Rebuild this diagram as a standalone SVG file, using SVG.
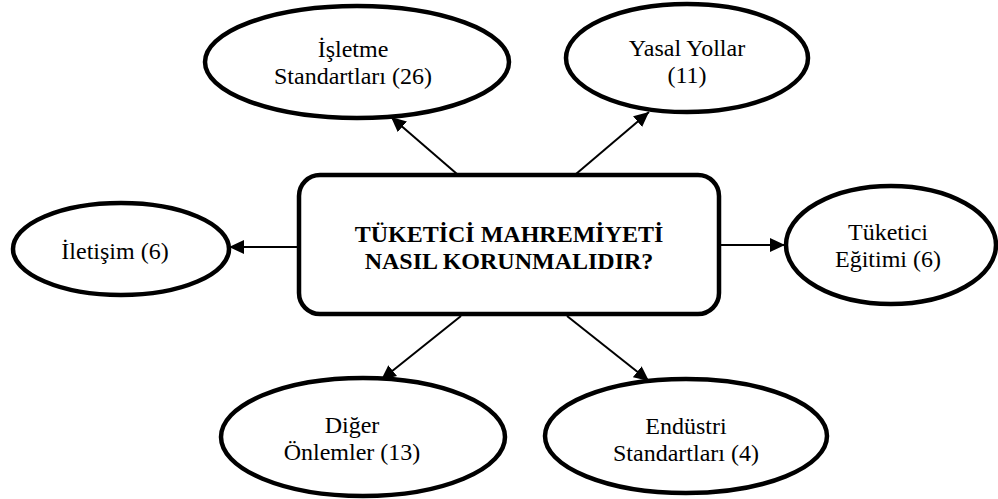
<svg xmlns="http://www.w3.org/2000/svg" width="998" height="499" viewBox="0 0 998 499">
<style>
.node{fill:#fff;stroke:#000;stroke-width:4.5}
text{font-family:'Liberation Serif','DejaVu Serif','Times New Roman',serif;fill:#000;text-anchor:middle}
.lbl{font-size:24px}
.title{font-size:24px;font-weight:bold}
.conn{stroke:#000;stroke-width:2;fill:none;marker-end:url(#ah)}
</style>
<defs>
<marker id="ah" markerUnits="userSpaceOnUse" markerWidth="16" markerHeight="14" refX="15" refY="7" orient="auto">
<path d="M0,0 L15,7 L0,14 Z" fill="#000"/>
</marker>
</defs>
<rect width="998" height="499" fill="#fff"/>
<g id="connectors">
<line class="conn" x1="457" y1="174" x2="391" y2="117"/>
<line class="conn" x1="576" y1="174" x2="649" y2="112"/>
<line class="conn" x1="299" y1="247" x2="229" y2="247"/>
<line class="conn" x1="719" y1="245" x2="785" y2="245"/>
<line class="conn" x1="461" y1="316" x2="381" y2="380"/>
<line class="conn" x1="567" y1="316" x2="649" y2="381"/>
</g>
<g id="center">
<rect class="node" x="299" y="175" width="420" height="139" rx="21"/>
<text class="title" x="509" y="242">TÜKETİCİ MAHREMİYETİ</text>
<text class="title" x="509" y="269">NASIL KORUNMALIDIR?</text>
</g>
<g id="isletme">
<ellipse class="node" cx="357" cy="62" rx="152" ry="56"/>
<text class="lbl" x="353" y="57">İşletme</text>
<text class="lbl" x="353" y="84">Standartları (26)</text>
</g>
<g id="yasal">
<ellipse class="node" cx="687" cy="58" rx="121" ry="54"/>
<text class="lbl" x="687" y="56">Yasal Yollar</text>
<text class="lbl" x="687" y="83">(11)</text>
</g>
<g id="iletisim">
<ellipse class="node" cx="121" cy="249" rx="108" ry="46"/>
<text class="lbl" x="115" y="259">İletişim (6)</text>
</g>
<g id="tuketici">
<ellipse class="node" cx="891" cy="245" rx="105" ry="59"/>
<text class="lbl" x="888" y="240">Tüketici</text>
<text class="lbl" x="888" y="267">Eğitimi (6)</text>
</g>
<g id="diger">
<ellipse class="node" cx="363" cy="437" rx="142" ry="59"/>
<text class="lbl" x="352" y="433">Diğer</text>
<text class="lbl" x="352" y="460">Önlemler (13)</text>
</g>
<g id="endustri">
<ellipse class="node" cx="686" cy="436" rx="141" ry="57"/>
<text class="lbl" x="686" y="434">Endüstri</text>
<text class="lbl" x="686" y="461">Standartları (4)</text>
</g>
</svg>
